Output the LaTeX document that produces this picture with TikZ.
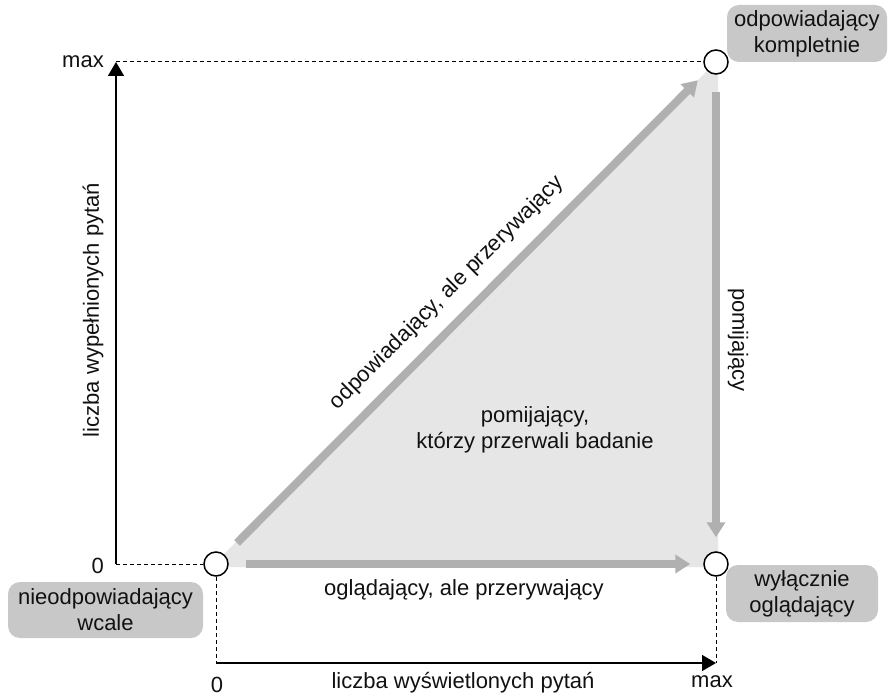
\documentclass[tikz,border=0pt]{standalone}
\usepackage{fontspec}
\setmainfont{Liberation Sans}
\usetikzlibrary{arrows.meta}
\definecolor{boxgray}{HTML}{C8C8C8}
\definecolor{trifill}{HTML}{E6E6E6}
\definecolor{arrowgray}{HTML}{B0B0B0}
\definecolor{txt}{HTML}{111111}
\tikzset{
  lbl/.style={font=\fontsize{22}{26}\selectfont, text=txt, inner sep=0pt},
  circ/.style={circle, draw=black, fill=white, line width=1.5pt, minimum size=24pt, inner sep=0pt},
  tag/.style={lbl, fill=boxgray, rounded corners=12pt, align=center},
  bigarrow/.style={draw=arrowgray, line width=8pt, -{Triangle[length=15pt,width=18pt]}},
  axisline/.style={draw=black, line width=1.5pt, -{Triangle[length=14pt,width=16pt]}},
  dashline/.style={draw=black, line width=1pt, dash pattern=on 4pt off 3pt}
}
\begin{document}
\begin{tikzpicture}[x=1pt,y=-1pt]
\useasboundingbox (0,0) rectangle (889,695);
\fill[white] (0,0) rectangle (889,695);
% shaded triangle
\fill[trifill] (216,562) -- (718,60) -- (718,567) -- (216,567) -- cycle;
% state circles
\node[circ] (a) at (216,564) {};
\node[circ] (b) at (716,62) {};
\node[circ] (c) at (716,564) {};
% axis coordinates
\coordinate (yo) at (116,564);
\coordinate (ytop) at (116,62);
\coordinate (xo) at (216,663);
\coordinate (xend) at (716,663);
% dashed guides
\draw[dashline] (yo) -- (a);
\draw[dashline] (ytop) -- (b);
\draw[dashline] (a) -- (xo);
\draw[dashline] (c) -- (xend);
% axes
\draw[axisline] (yo) -- (ytop);
\draw[axisline] (xo) -- (xend);
% transitions
\draw[bigarrow, shorten <=17pt, shorten >=13pt] (a) -- (b);
\draw[bigarrow, shorten <=17pt, shorten >=13pt] (a) -- (c);
\draw[bigarrow, shorten <=17pt, shorten >=14pt] (b) -- (c);
% axis labels
\node[lbl, anchor=base east] (ymax) at (104,68) {max};
\node[lbl, anchor=base east] (yzero) at (104,573) {0};
\node[lbl, anchor=base] (xzero) at (217,692) {0};
\node[lbl, anchor=base] (xmax) at (712,687) {max};
\node[lbl, anchor=base] (xlab) at (463,688) {liczba wyświetlonych pytań};
\node[lbl, rotate=90] (ylab) at (93,310) {liczba wypełnionych pytań};
% path labels
\node[lbl, rotate=45] (ldiag) at (447,293) {odpowiadający, ale przerywający};
\node[lbl, anchor=base] (lhor) at (464,595) {oglądający, ale przerywający};
\node[lbl, rotate=-90] (lver) at (738,340) {pomijający};
\node[lbl, align=center] (lmid) at (535,430) {pomijający,\\którzy przerwali badanie};
% tags
\node[tag, minimum width=195pt, minimum height=56pt] (t1) at (105.5,610) {nieodpowiadający\\wcale};
\node[tag, minimum width=160pt, minimum height=57pt] (t2) at (807,33.5) {odpowiadający\\kompletnie};
\node[tag, minimum width=152pt, minimum height=57pt] (t3) at (802,593.5) {wyłącznie\\oglądający};
\end{tikzpicture}
\end{document}
